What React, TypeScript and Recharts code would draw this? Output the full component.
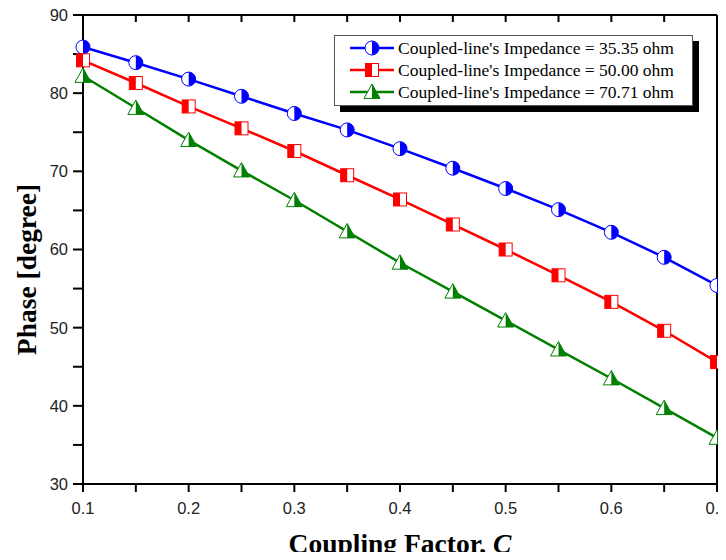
import { LineChart, Line, XAxis, YAxis, Legend } from "recharts";

const couplingFactor = [0.1, 0.15, 0.2, 0.25, 0.3, 0.35, 0.4, 0.45, 0.5, 0.55, 0.6, 0.65, 0.7];
const phase3535 = [85.9, 83.9, 81.8, 79.6, 77.4, 75.3, 72.9, 70.4, 67.8, 65.1, 62.2, 59.0, 55.4];
const phase5000 = [84.2, 81.3, 78.3, 75.5, 72.6, 69.5, 66.4, 63.2, 60.0, 56.7, 53.3, 49.6, 45.6];
const phase7071 = [82.2, 78.1, 74.0, 70.1, 66.3, 62.3, 58.3, 54.6, 50.9, 47.2, 43.5, 39.7, 35.9];

const seriesNames = [
  "Coupled-line's Impedance = 35.35 ohm",
  "Coupled-line's Impedance = 50.00 ohm",
  "Coupled-line's Impedance = 70.71 ohm",
];
const xTicks = [0.1, 0.15, 0.2, 0.25, 0.3, 0.35, 0.4, 0.45, 0.5, 0.55, 0.6, 0.65, 0.7];
const yTicks = [30, 35, 40, 45, 50, 55, 60, 65, 70, 75, 80, 85, 90];

const data = couplingFactor.map((c, i) => ({
  c,
  z35: phase3535[i],
  z50: phase5000[i],
  z70: phase7071[i],
}));

const BLUE = "#0000ff";
const RED = "#ff0000";
const GREEN = "#008000";

// half-filled markers, like the Origin plot
function HalfCircle({ cx, cy }: { cx: number; cy: number }) {
  const r = 7;
  return (
    <g>
      <circle cx={cx} cy={cy} r={r} fill="#fff" stroke={BLUE} strokeWidth={1} />
      <path d={`M${cx},${cy - r} A${r},${r} 0 0 1 ${cx},${cy + r} Z`} fill={BLUE} />
    </g>
  );
}

function HalfSquare({ cx, cy }: { cx: number; cy: number }) {
  const h = 6.5;
  return (
    <g>
      <rect x={cx - h} y={cy - h} width={h * 2} height={h * 2} fill="#fff" stroke={RED} strokeWidth={1} />
      <rect x={cx - h} y={cy - h} width={h} height={h * 2} fill={RED} />
    </g>
  );
}

function HalfTriangle({ cx, cy }: { cx: number; cy: number }) {
  const h = 8;
  return (
    <g>
      <path d={`M${cx},${cy - h} L${cx + h},${cy + h * 0.8} L${cx - h},${cy + h * 0.8} Z`} fill="#fff" stroke={GREEN} strokeWidth={1} />
      <path d={`M${cx},${cy - h} L${cx + h},${cy + h * 0.8} L${cx},${cy + h * 0.8} Z`} fill={GREEN} />
    </g>
  );
}

const markers = [HalfCircle, HalfSquare, HalfTriangle];
const colors = [BLUE, RED, GREEN];
const keys = ["z35", "z50", "z70"];

function LegendBox() {
  return (
    <div
      style={{
        border: "1px solid #555",
        background: "#fff",
        boxShadow: "6px 6px 0 #000",
        padding: "1px 18px 2px 14px",
        fontFamily: "'Liberation Serif', 'Times New Roman', serif",
        fontSize: 17.5,
        color: "#000",
        whiteSpace: "nowrap",
      }}
    >
      {seriesNames.map((name, i) => {
        const M = markers[i];
        return (
          <div key={name} style={{ display: "flex", alignItems: "center", height: 22 }}>
            <svg width={46} height={20} style={{ marginRight: 3 }}>
              <line x1={1} y1={10} x2={45} y2={10} stroke={colors[i]} strokeWidth={2.5} />
              <M cx={23} cy={10} />
            </svg>
            <span>{name}</span>
          </div>
        );
      })}
    </div>
  );
}

const tickStyle = { fontSize: 16.5, fill: "#222", fontFamily: "'Liberation Sans', Arial, sans-serif" };
const titleStyle = { fontSize: 27.5, fontWeight: 700, fontFamily: "'Liberation Serif', 'Times New Roman', serif", fill: "#000" };

export default function App() {
  return (
    <div style={{ margin: -8 }}>
      <LineChart width={726} height={560} data={data} margin={{ top: 15, right: 9, bottom: 0, left: 0 }}>
        <XAxis
          dataKey="c"
          type="number"
          domain={[0.1, 0.7]}
          ticks={xTicks}
          interval={0}
          tickFormatter={(v: number) => (Math.round(v * 100) % 10 === 0 ? v.toFixed(1) : "")}
          tick={tickStyle}
          tickSize={8}
          tickMargin={10}
          height={76}
          stroke="#000"
          strokeWidth={2}
          label={(props: any) => {
            const vb = props.viewBox;
            return (
              <text x={vb.x + vb.width / 2} y={vb.y + 69} textAnchor="middle" style={titleStyle}>
                Coupling Factor, <tspan fontStyle="italic">C</tspan>
              </text>
            );
          }}
        />
        <XAxis
          xAxisId="top"
          dataKey="c"
          type="number"
          orientation="top"
          domain={[0.1, 0.7]}
          ticks={xTicks}
          interval={0}
          mirror
          tickFormatter={() => ""}
          tickSize={7}
          height={1}
          stroke="#000"
          strokeWidth={2}
        />
        <YAxis
          type="number"
          domain={[30, 90]}
          ticks={yTicks}
          interval={0}
          tickFormatter={(v: number) => (v % 10 === 0 ? String(v) : "")}
          tick={tickStyle}
          tickSize={10}
          tickMargin={5}
          width={83}
          stroke="#000"
          strokeWidth={2}
          label={(props: any) => {
            const vb = props.viewBox;
            const cy = vb.y + vb.height / 2 + 20;
            return (
              <text x={30} y={cy} transform={`rotate(-90 30 ${cy})`} textAnchor="middle" dominantBaseline="middle" style={titleStyle}>
                Phase [degree]
              </text>
            );
          }}
        />
        <YAxis
          yAxisId="right"
          orientation="right"
          type="number"
          domain={[30, 90]}
          ticks={yTicks}
          interval={0}
          mirror
          tickFormatter={() => ""}
          tickSize={7}
          width={1}
          stroke="#000"
          strokeWidth={2}
        />
        {keys.map((k, i) => {
          const M = markers[i];
          return (
            <Line
              key={k}
              dataKey={k}
              name={seriesNames[i]}
              type="linear"
              stroke={colors[i]}
              strokeWidth={2.5}
              dot={(p: any) => <M key={`${k}-${p.index}`} cx={p.cx} cy={p.cy} />}
              activeDot={false}
              isAnimationActive={false}
            />
          );
        })}
        <Legend
          layout="vertical"
          align="center"
          verticalAlign="middle"
          wrapperStyle={{ left: 334, top: 35, width: "auto" }}
          content={() => <LegendBox />}
        />
      </LineChart>
    </div>
  );
}
